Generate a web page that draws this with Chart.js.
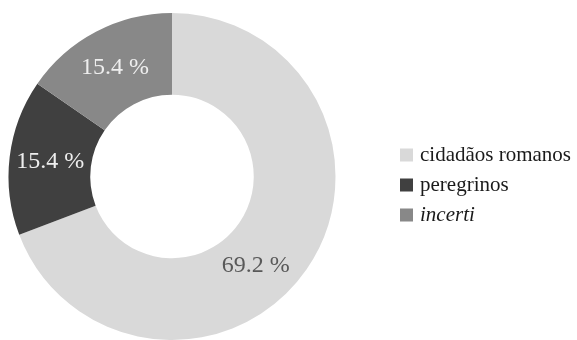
<!DOCTYPE html>
<html>
<head>
<meta charset="utf-8">
<script src="https://cdn.jsdelivr.net/npm/chart.js@4"></script>
<style>
  html, body { margin: 0; padding: 0; background: #ffffff; }
  #wrap { position: relative; width: 577px; height: 340px; }
</style>
</head>
<body>
<div id="wrap"><canvas id="c" width="577" height="340"></canvas></div>
<script>
// Composition of the group by legal status
const categories = ['cidadãos romanos', 'peregrinos', 'incerti'];
const percents = [69.2, 15.4, 15.4];
const sliceLabels = ['69.2 %', '15.4 %', '15.4 %'];

const fills = ['#d9d9d9', '#404040', '#888888'];
const labelColors = ['#595959', '#eeeeee', '#eeeeee'];
const labelAngleShift = [12.4, 0, 0];     // degrees, nudges a label along its ring
const legendItalic = [false, false, true];
const serif = '"Liberation Serif", "Times New Roman", serif';

const sliceLabelPlugin = {
  id: 'sliceLabels',
  afterDatasetsDraw(chart) {
    const ctx = chart.ctx;
    const meta = chart.getDatasetMeta(0);
    ctx.save();
    ctx.font = '24px ' + serif;
    ctx.textAlign = 'center';
    ctx.textBaseline = 'middle';
    meta.data.forEach((arc, i) => {
      const p = arc.getProps(['x', 'y', 'startAngle', 'endAngle', 'innerRadius', 'outerRadius'], true);
      const a = (p.startAngle + p.endAngle) / 2 + labelAngleShift[i] * Math.PI / 180;
      const r = (p.innerRadius + p.outerRadius) / 2;
      ctx.fillStyle = labelColors[i];
      ctx.fillText(sliceLabels[i], p.x + Math.cos(a) * r, p.y + Math.sin(a) * r);
    });
    ctx.restore();
  }
};

const sideLegendPlugin = {
  id: 'sideLegend',
  afterDraw(chart) {
    const ctx = chart.ctx;
    const x0 = 400, y0 = 155, step = 30, box = 13;
    ctx.save();
    ctx.textBaseline = 'middle';
    ctx.textAlign = 'left';
    categories.forEach((name, i) => {
      const y = y0 + i * step;
      ctx.fillStyle = fills[i];
      ctx.fillRect(x0, y - box / 2, box, box);
      ctx.fillStyle = '#1a1a1a';
      ctx.font = (legendItalic[i] ? 'italic ' : '') + '21px ' + serif;
      ctx.fillText(name, x0 + 20, y);
    });
    ctx.restore();
  }
};

new Chart(document.getElementById('c'), {
  type: 'doughnut',
  data: {
    labels: categories,
    datasets: [{
      data: percents,
      backgroundColor: fills,
      borderWidth: 0,
      hoverOffset: 0
    }]
  },
  options: {
    responsive: false,
    animation: false,
    cutout: '50%',
    rotation: 0,
    layout: { padding: { left: 8, right: 241, top: 13, bottom: 0 } },
    plugins: {
      legend: { display: false },
      tooltip: { enabled: false }
    }
  },
  plugins: [sliceLabelPlugin, sideLegendPlugin]
});
</script>
</body>
</html>
